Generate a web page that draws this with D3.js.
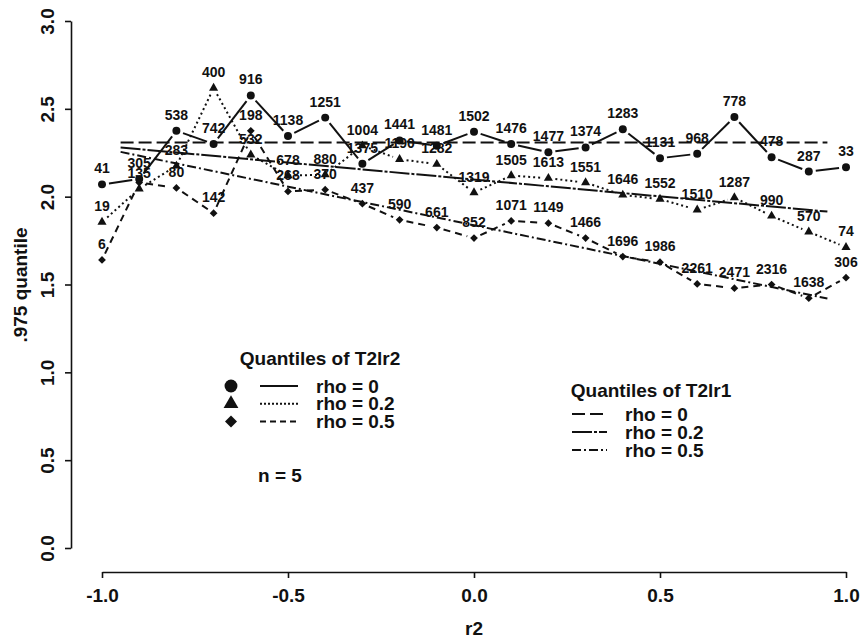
<!DOCTYPE html>
<html>
<head>
<meta charset="utf-8">
<script src="https://cdn.jsdelivr.net/npm/d3@7"></script>
<style>
  body { margin: 0; background: white; }
  text { font-family: "Liberation Sans", Arial, sans-serif; font-weight: bold; fill: #111; }
</style>
</head>
<body>
<div id="chart"></div>
<script>
// r2 values along the x axis
const r2 = [-1.0, -0.9, -0.8, -0.7, -0.6, -0.5, -0.4, -0.3, -0.2, -0.1, 0.0,
            0.1, 0.2, 0.3, 0.4, 0.5, 0.6, 0.7, 0.8, 0.9, 1.0];

// .975 quantiles of T2lr2 (points) and the sample counts printed above them
const qRho0  = [2.07, 2.10, 2.375, 2.30, 2.576, 2.346, 2.45, 2.187, 2.32, 2.29, 2.37,
                2.30, 2.253, 2.28, 2.384, 2.219, 2.244, 2.453, 2.225, 2.143, 2.168];
const nRho0  = ["41", "305", "538", "742", "916", "1138", "1251", "1375", "1441", "1481", "1502",
                "1476", "1477", "1374", "1283", "1131", "968", "778", "478", "287", "33"];

const qRho02 = [1.855, 2.045, 2.175, 2.618, 2.238, 2.12, 2.125, 2.29, 2.213, 2.185, 2.023,
                2.12, 2.105, 2.08, 2.01, 1.986, 1.925, 1.995, 1.89, 1.80, 1.712];
const nRho02 = ["19", "135", "283", "400", "532", "678", "880", "1004", "1190", "1282", "1319",
                "1505", "1613", "1551", "1646", "1552", "1510", "1287", "990", "570", "74"];

// the count at r2 = -0.9 is hidden under the other labels in the picture
const qRho05 = [1.64, 2.08, 2.05, 1.906, 2.375, 2.03, 2.04, 1.96, 1.868, 1.824, 1.764,
                1.862, 1.849, 1.764, 1.659, 1.627, 1.503, 1.479, 1.50, 1.422, 1.539];
const nRho05 = ["6", "", "80", "142", "198", "268", "370", "437", "590", "661", "852",
                "1071", "1149", "1466", "1696", "1986", "2261", "2471", "2316", "1638", "306"];

// quantiles of T2lr1: straight lines, [r2 start, q start, r2 end, q end]
const lineRho0  = [-0.95, 2.308, 0.95, 2.308];
const lineRho02 = [-0.95, 2.28, 0.95, 1.915];
const lineRho05 = [-0.95, 2.255, 0.95, 1.42];

const yTicks = [0.0, 0.5, 1.0, 1.5, 2.0, 2.5, 3.0];
const xTicks = [-1.0, -0.5, 0.0, 0.5, 1.0];

const W = 861, H = 639;

const svg = d3.select("#chart")
    .append("svg")
    .attr("width", W)
    .attr("height", H);

const x = d3.scaleLinear().domain([-1, 1]).range([102, 846]);
const y = d3.scaleLinear().domain([0, 3]).range([548, 21]);

// axes, R style: line only over the tick range, ticks pointing out
const xAxis = svg.append("g")
    .attr("transform", "translate(0,572)")
    .call(d3.axisBottom(x).tickValues(xTicks).tickFormat(d3.format(".1f"))
        .tickSize(6).tickSizeOuter(0).tickPadding(11));
const yAxis = svg.append("g")
    .attr("transform", "translate(71,0)")
    .call(d3.axisLeft(y).tickValues(yTicks).tickFormat(d3.format(".1f"))
        .tickSize(6).tickSizeOuter(0));

[xAxis, yAxis].forEach(g => {
    g.select(".domain").attr("stroke", "#111").attr("stroke-width", 1.6);
    g.selectAll(".tick line").attr("stroke", "#111").attr("stroke-width", 1.6);
    g.selectAll(".tick text")
        .style("font-family", "'Liberation Sans', Arial, sans-serif")
        .style("font-weight", "bold")
        .style("font-size", "19px")
        .attr("fill", "#111");
});
xAxis.selectAll(".tick text").text(d => d3.format(".1f")(d).replace("−", "-"));

yAxis.selectAll(".tick text")
    .attr("x", null).attr("dy", null)
    .attr("text-anchor", "middle")
    .attr("dominant-baseline", "central")
    .attr("transform", "translate(-24,0) rotate(-90)");

svg.append("text")
    .attr("x", 474).attr("y", 635)
    .attr("text-anchor", "middle")
    .style("font-size", "19px")
    .text("r2");

svg.append("text")
    .attr("transform", "translate(20,285) rotate(-90)")
    .attr("text-anchor", "middle")
    .attr("dominant-baseline", "central")
    .style("font-size", "19px")
    .text(".975 quantile");

// T2lr1 reference lines
const refLines = [
    {v: lineRho0,  dash: "13,5"},
    {v: lineRho02, dash: "20,2,3,2"},
    {v: lineRho05, dash: "9,3,2,3"}
];
refLines.forEach(l => {
    svg.append("line")
        .attr("x1", x(l.v[0])).attr("y1", y(l.v[1]))
        .attr("x2", x(l.v[2])).attr("y2", y(l.v[3]))
        .attr("stroke", "#111")
        .attr("stroke-width", 2)
        .attr("stroke-dasharray", l.dash);
});

// T2lr2 series, drawn like R type="b": segments with a gap round each point
// diamond = square turned 45 degrees
const series = [
    {q: qRho0,  n: nRho0,  dash: null,  sym: d3.symbolCircle,   size: 50, rot: 0},
    {q: qRho02, n: nRho02, dash: "2,3", sym: d3.symbolTriangle, size: 36, rot: 0},
    {q: qRho05, n: nRho05, dash: "7,5", sym: d3.symbolSquare,   size: 30, rot: 45}
];

const gap = 7;
series.forEach(s => {
    const pts = r2.map((r, i) => [x(r), y(s.q[i])]);
    const segs = d3.pairs(pts).map(([a, b]) => {
        const dx = b[0] - a[0], dy = b[1] - a[1];
        const len = Math.hypot(dx, dy);
        return len > 2 * gap ? [a[0] + dx * gap / len, a[1] + dy * gap / len,
                                b[0] - dx * gap / len, b[1] - dy * gap / len] : null;
    }).filter(d => d);

    svg.append("g").selectAll("line")
        .data(segs)
        .enter()
        .append("line")
        .attr("x1", d => d[0]).attr("y1", d => d[1])
        .attr("x2", d => d[2]).attr("y2", d => d[3])
        .attr("stroke", "#111")
        .attr("stroke-width", 2)
        .attr("stroke-dasharray", s.dash);

    svg.append("g").selectAll("path")
        .data(pts)
        .enter()
        .append("path")
        .attr("transform", d => `translate(${d[0]},${d[1]}) rotate(${s.rot})`)
        .attr("d", d3.symbol().type(s.sym).size(s.size))
        .attr("fill", "#111");

    svg.append("g").selectAll("text")
        .data(pts.filter((d, i) => s.n[i] !== "").map((d, i) => d))
        .enter()
        .append("text")
        .attr("x", d => d[0])
        .attr("y", d => d[1] - 11)
        .attr("text-anchor", "middle")
        .style("font-size", "14px")
        .text(d => s.n[pts.indexOf(d)]);
});

// legend for T2lr2
const leg1 = svg.append("g");
leg1.append("text")
    .attr("x", 320).attr("y", 365)
    .attr("text-anchor", "middle")
    .style("font-size", "19px")
    .text("Quantiles of T2lr2");

const legRows1 = [
    {sym: d3.symbolCircle,   size: 130, rot: 0,  dash: null,  label: "rho = 0"},
    {sym: d3.symbolTriangle, size: 95,  rot: 0,  dash: "2,2", label: "rho = 0.2"},
    {sym: d3.symbolSquare,   size: 72,  rot: 45, dash: "6,4", label: "rho = 0.5"}
];
legRows1.forEach((r, i) => {
    const yy = 386 + i * 17.8;
    leg1.append("path")
        .attr("transform", `translate(231,${yy}) rotate(${r.rot})`)
        .attr("d", d3.symbol().type(r.sym).size(r.size))
        .attr("fill", "#111");
    leg1.append("line")
        .attr("x1", 260).attr("x2", 298).attr("y1", yy).attr("y2", yy)
        .attr("stroke", "#111").attr("stroke-width", 2)
        .attr("stroke-dasharray", r.dash);
    leg1.append("text")
        .attr("x", 316).attr("y", yy)
        .attr("dominant-baseline", "central")
        .style("font-size", "19px")
        .text(r.label);
});

leg1.append("text")
    .attr("x", 258).attr("y", 482)
    .style("font-size", "19px")
    .text("n = 5");

// legend for T2lr1
const leg2 = svg.append("g");
leg2.append("text")
    .attr("x", 651).attr("y", 397)
    .attr("text-anchor", "middle")
    .style("font-size", "19px")
    .text("Quantiles of T2lr1");

refLines.forEach((l, i) => {
    const yy = 414 + i * 18;
    leg2.append("line")
        .attr("x1", 572).attr("x2", 607).attr("y1", yy).attr("y2", yy)
        .attr("stroke", "#111").attr("stroke-width", 2)
        .attr("stroke-dasharray", l.dash);
    leg2.append("text")
        .attr("x", 625).attr("y", yy)
        .attr("dominant-baseline", "central")
        .style("font-size", "19px")
        .text(["rho = 0", "rho = 0.2", "rho = 0.5"][i]);
});
</script>
</body>
</html>
